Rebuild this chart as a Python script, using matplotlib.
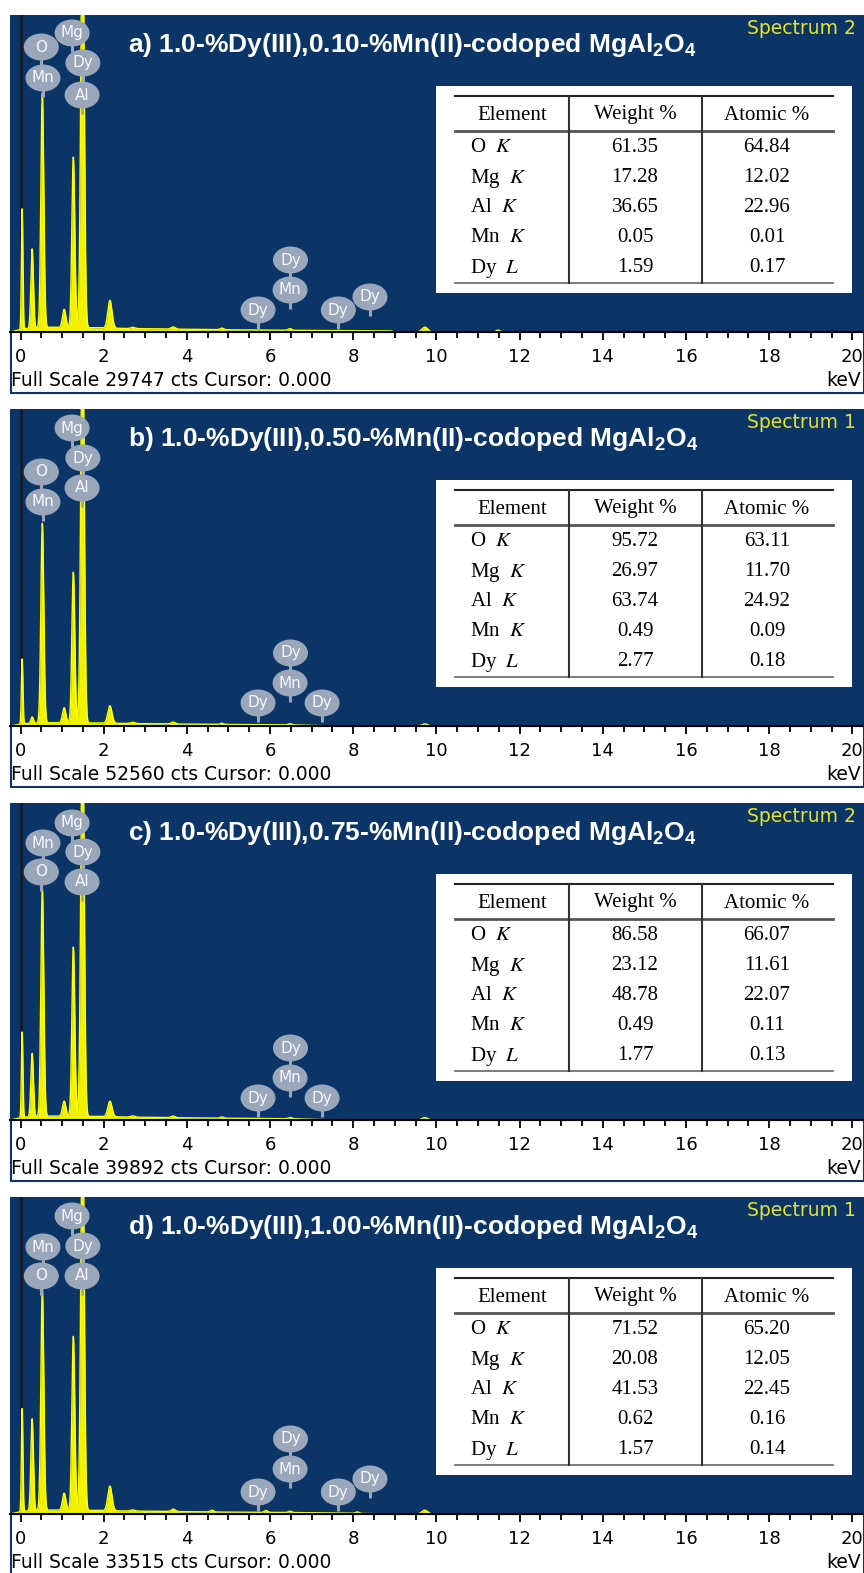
import numpy as np
import matplotlib
matplotlib.use("Agg")
import matplotlib.pyplot as plt
from matplotlib.patches import Rectangle, Ellipse
from matplotlib.ticker import MultipleLocator

# ---------------------------------------------------------------- data
PANEL_LABELS = ["a)", "b)", "c)", "d)"]
MN_CONTENT = ["0.10", "0.50", "0.75", "1.00"]
SPECTRUM_NAMES = ["Spectrum 2", "Spectrum 1", "Spectrum 2", "Spectrum 1"]
FULL_SCALE = [29747, 52560, 39892, 33515]

ELEMENTS = ["O", "Mg", "Al", "Mn", "Dy"]
XRAY_LINES = ["K", "K", "K", "K", "L"]
WEIGHT_PCT = [
    ["61.35", "17.28", "36.65", "0.05", "1.59"],
    ["95.72", "26.97", "63.74", "0.49", "2.77"],
    ["86.58", "23.12", "48.78", "0.49", "1.77"],
    ["71.52", "20.08", "41.53", "0.62", "1.57"],
]
ATOMIC_PCT = [
    ["64.84", "12.02", "22.96", "0.01", "0.17"],
    ["63.11", "11.70", "24.92", "0.09", "0.18"],
    ["66.07", "11.61", "22.07", "0.11", "0.13"],
    ["65.20", "12.05", "22.45", "0.16", "0.14"],
]

# EDS peaks: centre (keV), width (keV) and net counts for each spectrum
PEAK_KEV = [0.04, 0.28, 0.525, 1.05, 1.27, 1.49, 2.15, 2.70, 3.67,
            4.60, 4.84, 5.90, 6.48, 8.10, 9.72, 11.48]
PEAK_WIDTH_KEV = [0.018, 0.03, 0.035, 0.04, 0.035, 0.04, 0.05, 0.05, 0.05,
                  0.04, 0.04, 0.04, 0.04, 0.04, 0.07, 0.05]
PEAK_COUNTS_A = [11300, 7440, 22000, 1700, 16000, 40000, 2600, 120, 200,
                 0, 150, 0, 150, 0, 450, 180]
PEAK_COUNTS_B = [10780, 1050, 33100, 2500, 25000, 70000, 2900, 200, 300,
                 0, 200, 0, 200, 0, 350, 0]
PEAK_COUNTS_C = [10770, 7980, 28700, 1900, 21300, 52000, 1950, 150, 200,
                 0, 150, 0, 150, 0, 300, 0]
PEAK_COUNTS_D = [10900, 9720, 23460, 1800, 18400, 43600, 2600, 120, 250,
                 200, 0, 200, 150, 150, 400, 0]

# Bremsstrahlung background (keV, counts)
CONT_KEV = [-0.25, 0.08, 0.6, 1.8, 2.5, 3.5, 4.5, 5.5, 6.6, 7.5, 8.9, 9.0, 20.25]
CONT_A = [0, 300, 450, 400, 330, 280, 230, 190, 160, 140, 110, 0, 0]
CONT_B = [0, 400, 550, 500, 420, 350, 280, 230, 180, 0, 0, 0, 0]
CONT_C = [0, 350, 500, 450, 380, 300, 250, 200, 160, 0, 0, 0, 0]
CONT_D = [0, 300, 420, 380, 320, 270, 220, 180, 150, 120, 0, 0, 0]

PEAK_COUNTS = [PEAK_COUNTS_A, PEAK_COUNTS_B, PEAK_COUNTS_C, PEAK_COUNTS_D]
CONTINUUM = [CONT_A, CONT_B, CONT_C, CONT_D]

# element markers: (label, line energy keV, vertical offset in px from panel top)
MARKERS = [
    [("O", 0.50, 32), ("Mn", 0.54, 63), ("Mg", 1.24, 18), ("Dy", 1.50, 48), ("Al", 1.48, 80),
     ("Dy", 6.49, 245), ("Mn", 6.48, 275), ("Dy", 5.71, 295), ("Dy", 7.64, 295), ("Dy", 8.40, 282)],
    [("O", 0.50, 63), ("Mn", 0.54, 93), ("Mg", 1.24, 19), ("Dy", 1.50, 49), ("Al", 1.48, 79),
     ("Dy", 6.49, 244), ("Mn", 6.48, 274), ("Dy", 5.71, 294), ("Dy", 7.25, 294)],
    [("Mn", 0.54, 40), ("O", 0.50, 69), ("Mg", 1.24, 20), ("Dy", 1.50, 49), ("Al", 1.48, 79),
     ("Dy", 6.49, 245), ("Mn", 6.48, 275), ("Dy", 5.71, 295), ("Dy", 7.25, 295)],
    [("Mn", 0.54, 50), ("O", 0.50, 79), ("Mg", 1.24, 19), ("Dy", 1.50, 49), ("Al", 1.48, 79),
     ("Dy", 6.49, 242), ("Mn", 6.48, 272), ("Dy", 5.71, 295), ("Dy", 7.64, 295), ("Dy", 8.40, 282)],
]

# ---------------------------------------------------------------- style
W, H, DPI = 864, 1573, 100
NAVY = "#0a3566"
YELLOW = "#ffff00"
FILL = "#f2f200"
BUBBLE = "#9aa6ba"
LABEL_YELLOW = "#e3e32c"

PANEL_TOP = [15, 409, 803, 1197]
PLOT_H = 317
STRIP_H = 61
LEFT, RIGHT = 10, 863
X0_PX, PX_PER_KEV = 20.5, 41.6

plt.rcParams["mathtext.fontset"] = "custom"
plt.rcParams["mathtext.rm"] = "Liberation Sans:bold"
plt.rcParams["mathtext.it"] = "Liberation Sans:bold"
plt.rcParams["mathtext.bf"] = "Liberation Sans:bold"

fig = plt.figure(figsize=(W / DPI, H / DPI), dpi=DPI)
fig.patch.set_facecolor("white")


def pixel_axes(z):
    a = fig.add_axes([0, 0, 1, 1], zorder=z)
    a.set_xlim(0, W)
    a.set_ylim(H, 0)
    a.axis("off")
    a.patch.set_visible(False)
    return a


back = pixel_axes(0)
front = pixel_axes(3)

xmin = (LEFT - X0_PX) / PX_PER_KEV
xmax = (RIGHT - X0_PX) / PX_PER_KEV
energy = np.linspace(xmin, xmax, 7000)

for i in range(4):
    top = PANEL_TOP[i]
    base = top + PLOT_H

    # background frame and axis strip
    back.add_patch(Rectangle((LEFT, top), RIGHT - LEFT + 1, PLOT_H,
                             facecolor=NAVY, edgecolor="none"))
    back.add_patch(Rectangle((LEFT + 0.75, base), RIGHT - LEFT, STRIP_H,
                             facecolor="white", edgecolor=NAVY, lw=1.5))

    # spectrum
    ax = fig.add_axes([LEFT / W, 1 - base / H, (RIGHT - LEFT) / W, PLOT_H / H], zorder=1)
    ax.set_facecolor("none")
    ax.set_xlim(xmin, xmax)
    ax.set_ylim(0, FULL_SCALE[i])

    counts = np.interp(energy, CONT_KEV, CONTINUUM[i]).astype(float)
    for e, w, c in zip(PEAK_KEV, PEAK_WIDTH_KEV, PEAK_COUNTS[i]):
        counts += c * np.exp(-0.5 * ((energy - e) / w) ** 2)

    ax.axvline(0, color="#16161e", lw=1.8, zorder=1)
    ax.fill_between(energy, 0, counts, color=FILL, lw=0, zorder=2)
    ax.plot(energy, counts, color=YELLOW, lw=1.0, zorder=3)

    for s in ("left", "right", "top"):
        ax.spines[s].set_visible(False)
    ax.spines["bottom"].set_color("black")
    ax.spines["bottom"].set_linewidth(1.5)
    ax.spines["bottom"].set_zorder(4)
    ax.xaxis.set_major_locator(MultipleLocator(2))
    ax.xaxis.set_minor_locator(MultipleLocator(0.5))
    ax.tick_params(axis="x", which="major", direction="out", length=6, width=1.3,
                   color="black", labelsize=13, pad=5.5, labelcolor="black")
    ax.tick_params(axis="x", which="minor", direction="out", length=4, width=1.3,
                   color="black")
    ax.tick_params(axis="y", left=False, labelleft=False)

    # texts on the panel
    title = (f"{PANEL_LABELS[i]} 1.0-%Dy(III),{MN_CONTENT[i]}-%Mn(II)-codoped "
             r"MgAl$_2$O$_4$")
    front.text(128, top + 30, title, color="white", fontsize=19, fontweight="bold",
               family="Liberation Sans", ha="left", va="center")
    front.text(856, top + 14, SPECTRUM_NAMES[i], color=LABEL_YELLOW, fontsize=13.5,
               ha="right", va="center")
    front.text(11, base + 48, f"Full Scale {FULL_SCALE[i]} cts Cursor: 0.000",
               color="black", fontsize=13.5, ha="left", va="center")
    front.text(861, base + 48, "keV", color="black", fontsize=13.5, ha="right", va="center")

    # element markers
    to_px = ax.transData
    pts = []
    for lab, e, yrel in MARKERS[i]:
        xd, _ = to_px.transform((e, 0))
        px = front.transData.inverted().transform((xd, 0))[0]
        pts.append((lab, px, top + yrel))
    for lab, px, py in pts:
        front.plot([px, px], [py, py + 19], color=BUBBLE, lw=2.2, zorder=1,
                   solid_capstyle="butt")
    for lab, px, py in pts:
        front.add_patch(Ellipse((px, py), 35, 27, facecolor=BUBBLE, edgecolor="none",
                                zorder=2))
        front.text(px, py, lab, color="#f5f7fb", fontsize=11, ha="center",
                   va="center", zorder=3)

    # composition table
    front.add_patch(Rectangle((436, top + 71), 416, 207, facecolor="white",
                              edgecolor="none", zorder=1))
    front.plot([455, 833], [top + 81] * 2, color="#222222", lw=1.5, zorder=2)
    front.plot([455, 833], [top + 116] * 2, color="#555555", lw=2.0, zorder=2)
    front.plot([455, 833], [top + 268] * 2, color="#666666", lw=1.2, zorder=2)
    for vx in (569, 702):
        front.plot([vx, vx], [top + 81, top + 268], color="#333333", lw=1.5, zorder=2)
    for hx, htxt in ((512, "Element"), (635, "Weight %"), (767, "Atomic %")):
        front.text(hx, top + 100, htxt, family="Liberation Serif", fontsize=15,
                   ha="center", va="center", color="black", zorder=3)
    for r in range(len(ELEMENTS)):
        ry = top + 133 + 30 * r
        t = front.text(470, ry, f"{ELEMENTS[r]}  ${XRAY_LINES[r]}$",
                       family="Liberation Serif", fontsize=15, ha="left",
                       va="center", color="black", zorder=3)
        t.set_math_fontfamily("stix")
        front.text(635, ry, WEIGHT_PCT[i][r], family="Liberation Serif", fontsize=15,
                   ha="center", va="center", color="black", zorder=3)
        front.text(767, ry, ATOMIC_PCT[i][r], family="Liberation Serif", fontsize=15,
                   ha="center", va="center", color="black", zorder=3)

fig.savefig("out.png", dpi=DPI, facecolor="white")
